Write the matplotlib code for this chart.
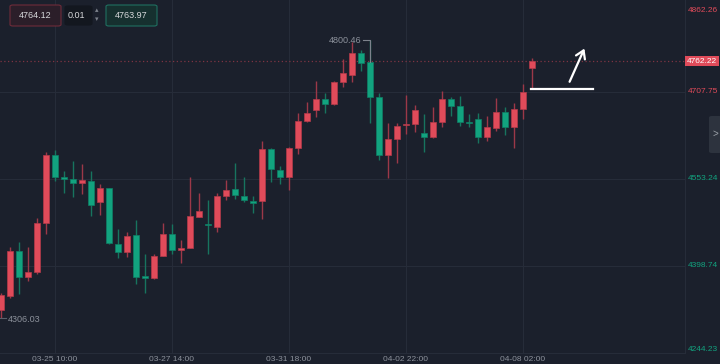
import numpy as np
import matplotlib
matplotlib.use("Agg")
import matplotlib.pyplot as plt
import matplotlib.transforms as mtransforms
from matplotlib.patches import FancyBboxPatch

plt.rcParams['font.family'] = ['Liberation Sans', 'DejaVu Sans']

# 4H candles
opens = [4320.6, 4346.0, 4425.9, 4379.7, 4387.5, 4475.6, 4596.4, 4556.3, 4552.7, 4546.7,
         4550.2, 4512.9, 4536.7, 4437.8, 4423.6, 4453.2, 4380.1, 4377.9, 4417.0, 4455.0,
         4428.0, 4430.1, 4486.3, 4472.4, 4468.5, 4523.0, 4534.9, 4523.0, 4514.2, 4514.7,
         4606.0, 4569.2, 4557.3, 4608.8, 4656.2, 4675.8, 4694.8, 4686.4, 4726.0, 4737.9,
         4776.5, 4761.6, 4698.3, 4595.3, 4623.7, 4649.1, 4650.9, 4635.4, 4627.3, 4654.5,
         4695.8, 4682.9, 4655.0, 4660.3, 4628.4, 4643.3, 4672.8, 4645.0, 4678.1, 4749.8]
highs = [4350.8, 4432.5, 4441.3, 4433.0, 4484.5, 4601.7, 4604.2, 4568.0, 4585.7, 4579.9,
         4568.0, 4543.8, 4537.2, 4463.9, 4459.6, 4480.4, 4420.0, 4420.0, 4475.6, 4473.3,
         4444.9, 4556.3, 4528.9, 4515.9, 4527.8, 4551.5, 4582.2, 4557.3, 4523.0, 4620.7,
         4608.3, 4576.3, 4610.6, 4669.9, 4689.5, 4727.3, 4706.5, 4727.3, 4765.8, 4796.0,
         4782.3, 4800.46, 4706.5, 4652.2, 4652.2, 4702.4, 4684.6, 4668.1, 4680.6, 4709.5,
         4699.4, 4700.6, 4668.1, 4669.9, 4665.6, 4697.6, 4680.6, 4688.8, 4722.0, 4767.6]
lows = [4306.03, 4341.9, 4349.0, 4372.1, 4384.0, 4455.6, 4550.2, 4528.9, 4521.8, 4526.1,
        4487.5, 4489.3, 4437.8, 4412.4, 4415.2, 4366.2, 4350.2, 4375.1, 4417.0, 4420.0,
        4403.5, 4430.1, 4486.3, 4419.5, 4459.6, 4515.9, 4517.2, 4512.9, 4493.4, 4482.2,
        4548.4, 4544.4, 4533.7, 4597.1, 4655.0, 4663.9, 4669.9, 4685.5, 4717.1, 4726.0,
        4745.6, 4652.2, 4587.0, 4555.5, 4582.2, 4633.2, 4637.2, 4601.7, 4625.5, 4646.1,
        4665.0, 4647.4, 4646.1, 4617.7, 4621.3, 4638.5, 4630.8, 4608.8, 4659.8, 4714.3]
closes = [4347.2, 4425.9, 4379.7, 4388.6, 4474.6, 4596.4, 4556.3, 4553.2, 4545.6, 4551.5,
          4507.1, 4536.7, 4439.0, 4423.6, 4452.0, 4379.7, 4378.3, 4417.0, 4455.0, 4427.7,
          4430.7, 4487.0, 4495.9, 4470.7, 4523.0, 4533.7, 4524.3, 4515.9, 4511.1, 4606.0,
          4570.5, 4557.3, 4608.8, 4656.2, 4669.9, 4694.8, 4686.4, 4726.0, 4741.0, 4776.5,
          4759.8, 4698.3, 4595.9, 4623.7, 4647.4, 4650.2, 4675.8, 4627.3, 4654.5, 4695.8,
          4682.9, 4655.0, 4652.2, 4628.4, 4645.0, 4672.8, 4646.1, 4677.6, 4708.3, 4762.22]

tick_pos = [6, 19, 32, 45, 58]
tick_labels = ['03-25 10:00', '03-27 14:00', '03-31 18:00', '04-02 22:00', '04-08 02:00']
price_levels = [4862.26, 4707.75, 4553.24, 4398.74, 4244.23]
last_price = 4762.22
bid, ask, step = '4764.12', '4763.97', '0.01'

bg = '#1b202c'
grid_c = '#262c39'
up_c, dn_c = '#e04b5a', '#12a37f'
up_w, dn_w = '#9c3848', '#17745f'
txt_c = '#8c919b'
fs = 6

fig = plt.figure(figsize=(7.2, 3.64), dpi=100, facecolor=bg)
ax = fig.add_axes([0, 11 / 364, 685 / 720, 353 / 364])
ax.set_facecolor(bg)
ax.set_xlim(-0.111, 76.0)
ax.set_ylim(4244.23, 4871.1)

# grid
for p in price_levels[1:4]:
    ax.axhline(p, color=grid_c, lw=0.8, zorder=0)
for t in tick_pos:
    ax.axvline(t, color=grid_c, lw=0.8, zorder=0)

# candles
idx = np.arange(len(opens))
o = np.array(opens); h = np.array(highs); l = np.array(lows); c = np.array(closes)
up = c >= o
ax.vlines(idx[up], l[up], h[up], color=up_w, lw=1, zorder=2)
ax.vlines(idx[~up], l[~up], h[~up], color=dn_w, lw=1, zorder=2)
body = np.maximum(np.abs(c - o), 2.5)
ax.bar(idx[up], body[up], bottom=np.minimum(o, c)[up], width=0.68,
       color=up_c, edgecolor='#b53a4a', lw=0.5, zorder=3)
ax.bar(idx[~up], body[~up], bottom=np.minimum(o, c)[~up], width=0.68,
       color=dn_c, edgecolor='#0e8066', lw=0.5, zorder=3)

# last price line
ax.axhline(last_price, color='#7e3443', lw=0.9, ls=(0, (1, 2)), zorder=1)

# high / low markers
hi = int(np.argmax(h)); lo = int(np.argmin(l))
ax.plot([hi - 0.8, hi, hi], [h[hi], h[hi], max(o[hi], c[hi])], color='#7d828c', lw=0.8, zorder=4)
ax.text(hi - 0.9, h[hi] - 2, f'{h[hi]:.2f}', color=txt_c, fontsize=6.5, ha='right', va='center')
ax.plot([lo - 0.1, lo + 0.55], [l[lo], l[lo]], color='#5a606b', lw=0.8, zorder=4)
ax.text(lo + 0.8, l[lo] - 2, f'{l[lo]:.2f}', color=txt_c, fontsize=6.5, ha='left', va='center')

# hand drawn annotation
last = len(opens) - 1
ax.plot([last - 0.15, last + 6.8], [l[last] - 1, l[last] - 1], color='white', lw=1.6, zorder=5)
ax.annotate('', xy=(last + 5.95, 4789.4), xytext=(last + 4.05, 4721.4),
            arrowprops=dict(arrowstyle='->,head_length=0.55,head_width=0.35', color='white', lw=1.6),
            zorder=5)

# x labels
ax.set_xticks(tick_pos)
ax.set_xticklabels(tick_labels)
ax.tick_params(axis='x', length=0, pad=2, labelsize=fs, labelcolor=txt_c)
ax.set_yticks([])
for s in ['top', 'left']:
    ax.spines[s].set_visible(False)
ax.spines['right'].set_color(grid_c)
ax.spines['bottom'].set_color(grid_c)

# right price labels
tr = mtransforms.blended_transform_factory(ax.transAxes, ax.transData)
for i, p in enumerate(price_levels):
    col = up_c if p > last_price - 60 else dn_c
    va = 'top' if i == 0 else ('bottom' if i == len(price_levels) - 1 else 'center')
    ax.text(1.004, p + (-3 if i == 0 else 0), f'{p:.2f}', transform=tr, color=col,
            fontsize=fs, ha='left', va=va, clip_on=False)
ax.text(1.003, last_price, f'{last_price:.2f}', transform=tr, color='white', fontsize=fs,
        ha='left', va='center', clip_on=False,
        bbox=dict(boxstyle='square,pad=0.2', fc=up_c, ec='none'))

# top-left order boxes
def box(x, y, w, hgt, fc, ec):
    fig.add_artist(FancyBboxPatch((x / 720, 1 - (y + hgt) / 364), w / 720, hgt / 364,
                                  boxstyle='round,pad=0,rounding_size=0.004',
                                  transform=fig.transFigure, fc=fc, ec=ec, lw=0.8))

box(10, 5, 51, 21, '#2b1e29', '#6e2c3a')
box(65, 6, 27, 19, '#13171f', '#13171f')
box(106, 5, 51, 21, '#16302f', '#1f7061')
fig.text(35.5 / 720, 1 - 15.5 / 364, bid, color='#d8d9dc', fontsize=6.5, ha='center', va='center')
fig.text(76 / 720, 1 - 15.5 / 364, step, color='#d8d9dc', fontsize=6.5, ha='center', va='center')
fig.text(97 / 720, 1 - 11 / 364, '\u25b4', color='#7d828c', fontsize=5, ha='center', va='center')
fig.text(97 / 720, 1 - 20 / 364, '\u25be', color='#7d828c', fontsize=5, ha='center', va='center')
fig.text(131.5 / 720, 1 - 15.5 / 364, ask, color='#d8d9dc', fontsize=6.5, ha='center', va='center')

# collapse tab on the right
fig.add_artist(FancyBboxPatch((709 / 720, 1 - 153 / 364), 13 / 720, 37 / 364,
                              boxstyle='round,pad=0,rounding_size=0.004',
                              transform=fig.transFigure, fc='#2d333e', ec='none'))
fig.text(715 / 720, 1 - 134 / 364, '>', color='#9aa0a8', fontsize=7, ha='center', va='center')

fig.savefig('out.png', dpi=100, facecolor=bg)
